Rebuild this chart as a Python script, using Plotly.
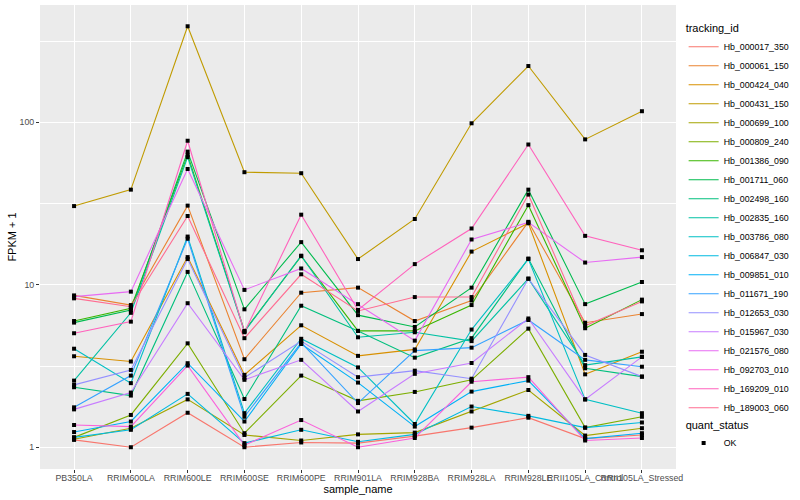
import plotly.graph_objects as go

samples = ["PB350LA", "RRIM600LA", "RRIM600LE", "RRIM600SE", "RRIM600PE", "RRIM901LA",
           "RRIM928BA", "RRIM928LA", "RRIM928LE", "RRII105LA_Control", "RRII105LA_Stressed"]

tracking_ids = ["Hb_000017_350", "Hb_000061_150", "Hb_000424_040", "Hb_000431_150", "Hb_000699_100",
                "Hb_000809_240", "Hb_001386_090", "Hb_001711_060", "Hb_002498_160", "Hb_002835_160",
                "Hb_003786_080", "Hb_006847_030", "Hb_009851_010", "Hb_011671_190", "Hb_012653_030",
                "Hb_015967_030", "Hb_021576_080", "Hb_092703_010", "Hb_169209_010", "Hb_189003_060"]

hb_000017_350 = [1.11, 1.0, 1.63, 1.0, 1.07, 1.06, 1.17, 1.32, 1.52, 1.13, 1.19]
hb_000061_150 = [8.6, 7.5, 30.7, 3.48, 8.94, 9.6, 5.98, 8.0, 24.4, 5.84, 6.6]
hb_000424_040 = [3.63, 3.37, 14.8, 2.79, 5.63, 3.65, 4.0, 16.0, 23.9, 2.81, 3.87]
hb_000431_150 = [30.5, 38.5, 390.0, 49.3, 48.6, 14.4, 25.4, 98.6, 222.0, 78.5, 117.0]
hb_000699_100 = [1.12, 1.31, 1.97, 1.19, 1.1, 1.2, 1.23, 1.66, 2.25, 1.18, 1.31]
hb_000809_240 = [1.15, 1.58, 4.36, 1.22, 2.76, 1.93, 2.19, 2.6, 5.37, 1.32, 1.54]
hb_001386_090 = [5.98, 7.17, 63.0, 5.2, 15.0, 5.2, 5.2, 7.5, 30.9, 5.4, 8.1]
hb_001711_060 = [5.85, 6.98, 66.0, 7.06, 18.3, 6.5, 5.5, 9.6, 38.5, 7.6, 10.4]
hb_002498_160 = [2.34, 2.08, 12.0, 1.98, 7.43, 5.2, 3.56, 4.69, 14.5, 3.06, 2.72]
hb_002835_160 = [2.57, 6.72, 61.0, 5.15, 15.1, 4.75, 5.1, 4.5, 10.9, 3.2, 3.6]
hb_003786_080 = [4.04, 2.48, 19.8, 1.62, 4.65, 3.1, 1.39, 5.3, 14.4, 1.97, 1.62]
hb_006847_030 = [1.15, 1.28, 2.13, 1.06, 1.28, 1.08, 1.2, 1.78, 1.56, 1.32, 1.42]
hb_009851_010 = [1.24, 1.44, 3.29, 1.44, 4.32, 2.5, 1.34, 2.2, 2.57, 1.13, 1.22]
hb_011671_190 = [1.76, 2.76, 19.2, 1.54, 4.4, 1.87, 3.93, 4.1, 6.07, 3.45, 3.13]
hb_012653_030 = [2.42, 2.99, 14.4, 2.68, 4.5, 2.7, 2.96, 2.64, 10.9, 3.7, 2.72]
hb_015967_030 = [1.71, 2.17, 7.7, 2.6, 3.45, 1.66, 2.83, 3.3, 6.2, 1.97, 3.6]
hb_021576_080 = [8.45, 9.07, 51.6, 9.3, 12.6, 7.6, 4.53, 19.0, 24.2, 13.7, 14.8]
hb_092703_010 = [1.37, 1.34, 3.18, 1.03, 1.47, 1.0, 1.14, 2.53, 2.7, 1.1, 1.14]
hb_169209_010 = [5.03, 5.93, 77.0, 5.1, 27.0, 7.0, 13.4, 22.2, 73.0, 20.0, 16.3]
hb_189003_060 = [8.25, 7.33, 26.5, 4.69, 11.6, 6.9, 8.4, 8.4, 35.9, 5.6, 7.9]

series_values = [hb_000017_350, hb_000061_150, hb_000424_040, hb_000431_150, hb_000699_100,
                 hb_000809_240, hb_001386_090, hb_001711_060, hb_002498_160, hb_002835_160,
                 hb_003786_080, hb_006847_030, hb_009851_010, hb_011671_190, hb_012653_030,
                 hb_015967_030, hb_021576_080, hb_092703_010, hb_169209_010, hb_189003_060]

colors = ["#F8766D", "#EA8331", "#D89000", "#C09B00", "#A3A500", "#7CAE00", "#39B600", "#00BB4E",
          "#00BF7D", "#00C1A3", "#00BFC4", "#00BAE0", "#00B0F6", "#35A2FF", "#9590FF", "#C77CFF",
          "#E76BF3", "#FA62DB", "#FF62BC", "#FF6C91"]

y_ticks = [1, 10, 100]
y_tick_labels = ["1", "10", "100"]

FONT = "Liberation Sans, Arial, Helvetica, sans-serif"

fig = go.Figure()
for tid, vals, col in zip(tracking_ids, series_values, colors):
    fig.add_trace(go.Scatter(x=samples, y=vals, mode="lines", name=tid,
                             line=dict(color=col, width=1.1), legend="legend"))

all_x, all_y = [], []
for vals in series_values:
    all_x += samples
    all_y += vals
fig.add_trace(go.Scatter(x=all_x, y=all_y, mode="markers", name="OK",
                         marker=dict(symbol="square", size=4, color="black"),
                         legend="legend2"))

fig.update_layout(
    width=800, height=500,
    margin=dict(l=40, r=116, t=5, b=31),
    plot_bgcolor="#EBEBEB", paper_bgcolor="white",
    font=dict(family=FONT, color="black"),
    xaxis=dict(type="category", range=[-0.6, 10.6], showgrid=True, gridcolor="white", gridwidth=1.1,
               ticks="outside", ticklen=3, tickcolor="#333333", tickwidth=1,
               tickfont=dict(size=8.8, color="#4D4D4D", family=FONT), tickangle=0,
               ticklabelstandoff=-3,
               title=dict(text="sample_name", font=dict(size=11, color="black"), standoff=0),
               zeroline=False, showline=False, automargin=False),
    yaxis=dict(type="log", range=[-0.134, 2.722], tickvals=y_ticks, ticktext=y_tick_labels,
               showgrid=True, gridcolor="white", gridwidth=1.1,
               minor=dict(tickvals=[10 ** 0.5, 10 ** 1.5, 10 ** 2.5], showgrid=True,
                          gridcolor="white", gridwidth=0.55, ticks=""),
               ticks="outside", ticklen=3, tickcolor="#333333", tickwidth=1,
               tickfont=dict(size=8.8, color="#4D4D4D", family=FONT),
               title=dict(text="FPKM + 1", font=dict(size=11, color="black"), standoff=0),
               zeroline=False, showline=False, automargin=False),
    legend=dict(title=dict(text="tracking_id", font=dict(size=11)), font=dict(size=8.8),
                x=1.012, xanchor="left", y=0.972, yanchor="top", bgcolor="rgba(0,0,0,0)",
                itemwidth=30, tracegroupgap=0),
    legend2=dict(title=dict(text="quant_status", font=dict(size=11)), font=dict(size=8.8),
                 x=1.012, xanchor="left", y=0.118, yanchor="top", bgcolor="rgba(0,0,0,0)",
                 itemwidth=30),
    showlegend=True,
)

fig.write_html("out.html", post_script="document.body.style.margin='0px';",
               config={"displayModeBar": False})
